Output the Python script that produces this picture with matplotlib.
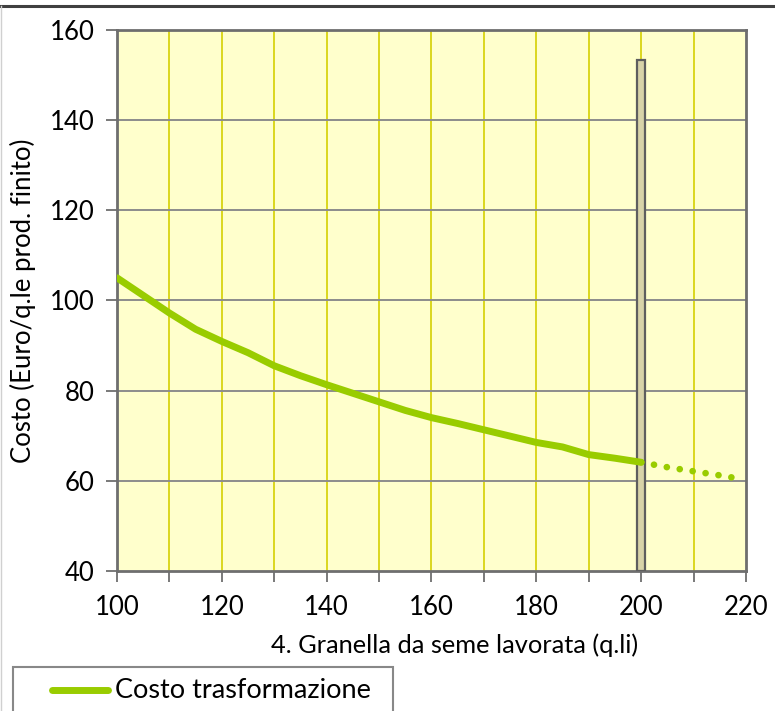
import numpy as np
import matplotlib
matplotlib.use('Agg')
import matplotlib.pyplot as plt
from matplotlib.lines import Line2D
from matplotlib.patches import Rectangle

plt.rcParams['font.family'] = ['Lato', 'DejaVu Sans']

# cost curve (Euro per quintal of finished product) vs processed quantity
quantita = [100, 105, 110, 115, 120, 125, 130, 135, 140, 145, 150,
            155, 160, 165, 170, 175, 180, 185, 190, 195, 200]
costo = [105.0, 101.1, 97.2, 93.6, 90.9, 88.4, 85.5, 83.3, 81.3, 79.4, 77.5,
         75.6, 74.0, 72.7, 71.3, 69.9, 68.5, 67.5, 65.8, 65.0, 64.1]

# extrapolated part beyond the reference quantity
quantita_ext = [200, 205, 210, 215, 218]
costo_ext = [64.1, 63.0, 62.1, 61.2, 60.6]

# marker bar at the reference quantity
bar_x = [200]
bar_h = [153.3]

GREEN = '#99cc00'
GRID_Y = '#d4d000'
SPINE = '#6e6e6e'
W, H = 775, 711

fig = plt.figure(figsize=(W / 100, H / 100), dpi=100)
ax = fig.add_axes([0.151, 0.197, 0.8115, 0.761])
ax.set_facecolor('#ffffcc')

ax.set_xlim(100, 220)
ax.set_ylim(40, 160)

ax.set_xticks(np.arange(100, 221, 20))
ax.set_xticks(np.arange(110, 220, 20), minor=True)
ax.set_yticks(np.arange(40, 161, 20))

for x in np.arange(110, 220, 10):
    ax.axvline(x, color=GRID_Y, lw=1.2, zorder=1)
for y in np.arange(60, 160, 20):
    ax.axhline(y, color='#8c8c8c', lw=1.4, zorder=1)

ax.bar(bar_x, [h - 40 for h in bar_h], bottom=40, width=1.5,
       color='#d8d3a8', edgecolor='#5e5e5e', lw=1.6, zorder=3)

ax.plot(quantita, costo, color=GREEN, lw=5, solid_capstyle='round',
        solid_joinstyle='round', zorder=4)
ax.plot(quantita_ext, costo_ext, color=GREEN, lw=4.8, ls=(0, (0.01, 1.95)),
        dash_capstyle='round', zorder=4)

for s in ax.spines.values():
    s.set_color(SPINE)
    s.set_linewidth(2)
ax.tick_params(axis='both', which='both', color=SPINE, width=1.3, length=8,
               labelsize=18.5, direction='out', pad=8)
ax.tick_params(axis='x', pad=9)

ax.set_xlabel('4. Granella da seme lavorata (q.li)', fontsize=18.3)
ax.xaxis.set_label_coords(0.537, -0.116)
ax.set_ylabel('Costo (Euro/q.le prod. finito)', fontsize=18.5, labelpad=10)

# chart area border
fig.add_artist(Line2D([0, 1], [1 - 5.5 / H] * 2, transform=fig.transFigure,
                      color='#404040', lw=2.2))
fig.add_artist(Line2D([1 / W] * 2, [0, 1 - 5.5 / H], transform=fig.transFigure,
                      color='#d0d0d0', lw=1))

# legend box below the plot
fig.add_artist(Rectangle((13 / W, -0.01), 380 / W, 1 - 667 / H + 0.01,
                         transform=fig.transFigure, facecolor='white',
                         edgecolor='#888888', lw=1.5))
fig.add_artist(Line2D([52 / W, 108 / W], [1 - 690 / H] * 2,
                      transform=fig.transFigure, color=GREEN, lw=5,
                      solid_capstyle='round'))
fig.text(115 / W, 1 - 690 / H, 'Costo trasformazione', fontsize=19.5,
         va='center', ha='left')

fig.savefig('out.png', dpi=100)
